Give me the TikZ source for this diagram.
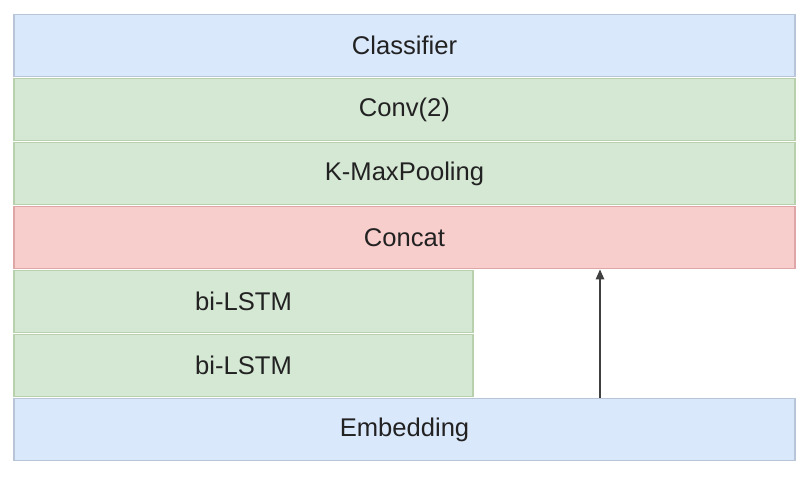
\documentclass[tikz,border=0pt]{standalone}
\usepackage{fontspec}
\setmainfont{Liberation Sans}
\usepackage{tikz}
\usetikzlibrary{arrows.meta,positioning,calc}
\definecolor{bluefill}{RGB}{218,232,252}
\definecolor{bluedraw}{RGB}{184,196,216}
\definecolor{greenfill}{RGB}{213,232,212}
\definecolor{greendraw}{RGB}{184,208,172}
\definecolor{redfill}{RGB}{248,206,204}
\definecolor{reddraw}{RGB}{222,166,166}
\definecolor{textgray}{RGB}{34,34,34}

\begin{document}
\begin{tikzpicture}[x=0.025cm,y=-0.025cm,
    every node/.style={inner sep=0pt,text=textgray,font=\fontsize{18.2}{22}\selectfont},
    layer/.style={rectangle,line width=1.4pt,minimum height=1.55cm},
    bluelayer/.style={layer,fill=bluefill,draw=bluedraw},
    greenlayer/.style={layer,fill=greenfill,draw=greendraw},
    redlayer/.style={layer,fill=redfill,draw=reddraw}]
            \useasboundingbox (0,0) rectangle (803,478);
            \node[bluelayer,minimum width=19.5cm] (classifier) at (404.5,45.5) {Classifier};
            \node[greenlayer,minimum width=19.5cm] (conv) at (404.5,109.5) {Conv(2)};
            \node[greenlayer,minimum width=19.5cm] (kmax) at (404.5,173.5) {K-MaxPooling};
            \node[redlayer,minimum width=19.5cm] (concat) at (404.5,237.5) {Concat};
            \node[greenlayer,minimum width=11.45cm] (lstm1) at (243.5,301.5) {bi-LSTM};
            \node[greenlayer,minimum width=11.45cm] (lstm2) at (243.5,365.5) {bi-LSTM};
            \node[bluelayer,minimum width=19.5cm] (embedding) at (404.5,429.5) {Embedding};
            \coordinate (skip) at (600,0);
            \draw[line width=0.9pt,black!75,-{Triangle[length=7pt,width=6pt]}]
                (embedding.north -| skip) -- (concat.south -| skip);
    \end{tikzpicture}
\end{document}
